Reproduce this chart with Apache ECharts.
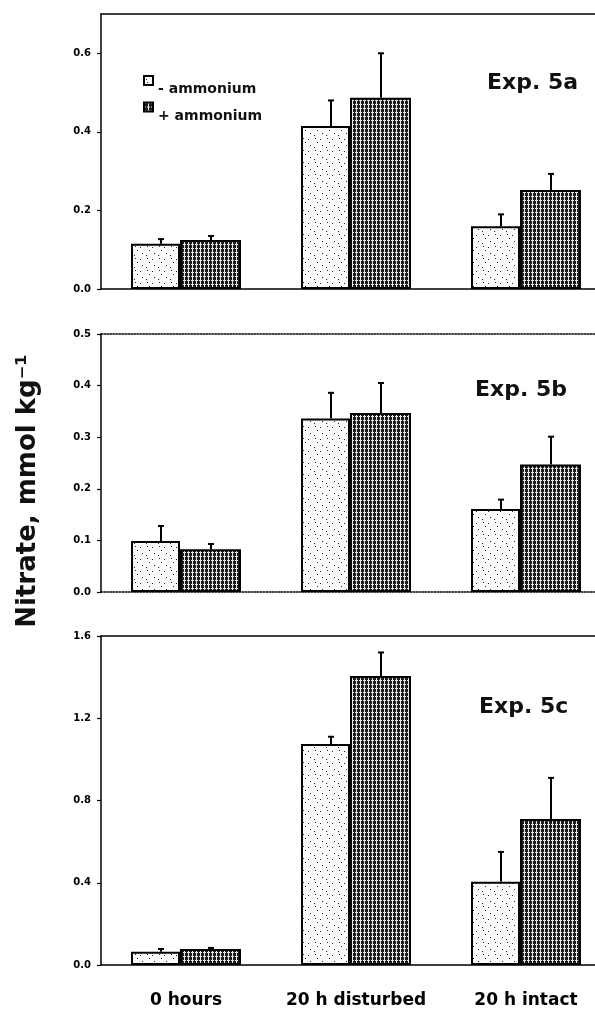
<!DOCTYPE html>
<html>
<head>
<meta charset="utf-8">
<script src="https://cdn.jsdelivr.net/npm/echarts@6/dist/echarts.min.js"></script>
<style>html,body{margin:0;padding:0;background:#fff;}#c{width:595px;height:1019px;}</style>
</head>
<body>
<div id="c"></div>
<script>
// ---- data ----
const categories = ['0 hours', '20 h disturbed', '20 h intact'];
const seriesNames = ['- ammonium', '+ ammonium'];
const panelTitles = ['Exp. 5a', 'Exp. 5b', 'Exp. 5c'];

const aMinus = [0.115, 0.415, 0.160];
const aMinusErr = [0.012, 0.065, 0.030];
const aPlus = [0.125, 0.487, 0.252];
const aPlusErr = [0.010, 0.113, 0.041];

const bMinus = [0.099, 0.336, 0.161];
const bMinusErr = [0.029, 0.050, 0.018];
const bPlus = [0.083, 0.347, 0.247];
const bPlusErr = [0.010, 0.058, 0.054];

const cMinus = [0.065, 1.075, 0.405];
const cMinusErr = [0.013, 0.035, 0.145];
const cPlus = [0.078, 1.405, 0.710];
const cPlusErr = [0.005, 0.115, 0.200];

const yMax = [0.7, 0.5, 1.6];
const yTicksA = [0, 0.2, 0.4, 0.6];
const yTicksB = [0, 0.1, 0.2, 0.3, 0.4, 0.5];
const yTicksC = [0, 0.4, 0.8, 1.2, 1.6];
const yTickStep = [0.2, 0.1, 0.4];

// ---- fill patterns ----
function lightPattern() {
  const cv = document.createElement('canvas');
  cv.width = 12; cv.height = 12;
  const g = cv.getContext('2d');
  g.fillStyle = '#fbfbfb'; g.fillRect(0, 0, 12, 12);
  g.fillStyle = '#222';
  [[2, 3], [8, 7], [5, 10], [10, 1], [3, 6]].forEach(p => g.fillRect(p[0], p[1], 1, 1));
  return cv;
}
function darkPattern() {
  const cv = document.createElement('canvas');
  cv.width = 4; cv.height = 4;
  const g = cv.getContext('2d');
  g.fillStyle = '#1c1c1c'; g.fillRect(0, 0, 4, 4);
  g.fillStyle = '#e8e8e8';
  g.fillRect(0, 0, 4, 1);
  g.fillRect(0, 1, 1, 3);
  g.fillStyle = '#1c1c1c';
  g.fillRect(2, 0, 1, 1);
  return cv;
}
const lightFill = { image: lightPattern(), repeat: 'repeat' };
const darkFill = { image: darkPattern(), repeat: 'repeat' };

const FONT = 'DejaVu Sans';
const grids = [
  { left: 101, top: 14, width: 510, height: 275, outerBoundsMode: 'none', containLabel: false },
  { left: 101, top: 334, width: 510, height: 258, outerBoundsMode: 'none', containLabel: false },
  { left: 101, top: 636, width: 510, height: 329, outerBoundsMode: 'none', containLabel: false }
];
const minusData = [aMinus, bMinus, cMinus];
const minusErr = [aMinusErr, bMinusErr, cMinusErr];
const plusData = [aPlus, bPlus, cPlus];
const plusErr = [aPlusErr, bPlusErr, cPlusErr];
const tickSets = [yTicksA, yTicksB, yTicksC];

const xAxes = [], yAxes = [], series = [];
grids.forEach((g, i) => {
  const dotted = i === 1 ? 'dotted' : 'solid';
  xAxes.push({
    type: 'category', gridIndex: i, data: categories, position: 'bottom',
    axisLine: { show: true, lineStyle: { color: '#000', width: 1.5, type: dotted } },
    axisTick: { show: false },
    axisLabel: { show: i === 2, interval: 0, margin: 27, color: '#000', fontFamily: FONT, fontWeight: 'bold', fontSize: 17 }
  });
  yAxes.push({
    type: 'value', gridIndex: i, min: 0, max: yMax[i], interval: yTickStep[i],
    splitLine: { show: false },
    axisLine: { show: true, lineStyle: { color: '#000', width: 1.5 } },
    axisTick: { show: true, inside: false, length: 4, lineStyle: { color: '#000', width: 1.2 }, customValues: tickSets[i] },
    axisLabel: { margin: 10, color: '#000', fontFamily: FONT, fontWeight: 'bold', fontSize: 10,
      customValues: tickSets[i], formatter: v => v.toFixed(1) }
  });
});
grids.forEach((g, i) => {
  xAxes.push({
    type: 'category', gridIndex: i, data: categories, position: 'top',
    axisLine: { show: true, lineStyle: { color: '#000', width: 1.5, type: i === 1 ? 'dotted' : 'solid' } },
    axisTick: { show: false }, axisLabel: { show: false }
  });
});

function errRender(offset) {
  return function (params, api) {
    const x = api.value(0), v = api.value(1), e = api.value(2);
    const base = api.coord([x, v]);
    const top = api.coord([x, v + e]);
    const cx = base[0] + offset;
    return {
      type: 'group',
      children: [
        { type: 'line', shape: { x1: cx, y1: base[1], x2: cx, y2: top[1] }, style: { stroke: '#000', lineWidth: 2 } },
        { type: 'line', shape: { x1: cx - 3, y1: top[1], x2: cx + 3, y2: top[1] }, style: { stroke: '#000', lineWidth: 2 } }
      ]
    };
  };
}

for (let i = 0; i < 3; i++) {
  series.push({
    name: seriesNames[0], type: 'bar', xAxisIndex: i, yAxisIndex: i,
    data: minusData[i], barWidth: 49, barGap: '0%',
    itemStyle: { color: lightFill, borderColor: '#000', borderWidth: 2 }
  });
  series.push({
    name: seriesNames[1], type: 'bar', xAxisIndex: i, yAxisIndex: i,
    data: plusData[i], barWidth: 61, barGap: '0%',
    itemStyle: { color: darkFill, borderColor: '#000', borderWidth: 2 }
  });
  series.push({
    type: 'custom', xAxisIndex: i, yAxisIndex: i, z: 5,
    renderItem: errRender(-25), encode: { x: 0, y: 1 },
    data: minusData[i].map((v, k) => [k, v, minusErr[i][k]])
  });
  series.push({
    type: 'custom', xAxisIndex: i, yAxisIndex: i, z: 5,
    renderItem: errRender(25), encode: { x: 0, y: 1 },
    data: plusData[i].map((v, k) => [k, v, plusErr[i][k]])
  });
}

const titlePos = [[487, 72], [475, 379], [479, 696]];
const chart = echarts.init(document.getElementById('c'), null, { renderer: 'canvas' });
chart.setOption({
  animation: false,
  backgroundColor: '#fff',
  grid: grids,
  xAxis: xAxes,
  yAxis: yAxes,
  series: series,
  title: panelTitles.map((t, i) => ({
    text: t, left: titlePos[i][0], top: titlePos[i][1], padding: 0,
    textStyle: { fontFamily: FONT, fontWeight: 'bold', fontSize: 22, color: '#111' }
  })),
  legend: {
    data: seriesNames, orient: 'vertical', left: 143, top: 75, padding: 0,
    itemWidth: 9, itemHeight: 9, itemGap: 5, icon: 'rect',
    formatter: n => '{t|' + n + '}',
    textStyle: { fontFamily: FONT, fontWeight: 'bold', fontSize: 14, color: '#111',
      rich: { t: { fontFamily: FONT, fontWeight: 'bold', fontSize: 14, color: '#111', padding: [18, 0, 0, 0] } } },
    selectedMode: false
  },
  graphic: [{
    type: 'text', x: 28, y: 491, rotation: Math.PI / 2,
    style: { text: 'Nitrate, mmol kg\u207B\u00B9', font: 'bold 26px "DejaVu Sans"', fill: '#111',
      align: 'center', verticalAlign: 'middle' }
  }]
});
</script>
</body>
</html>
